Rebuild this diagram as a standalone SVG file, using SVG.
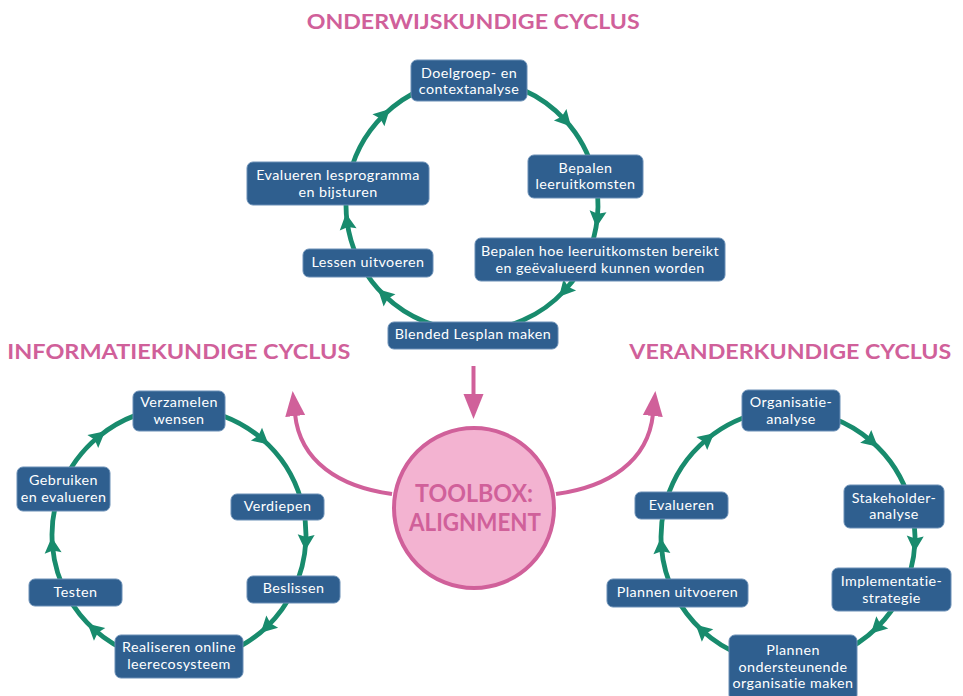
<svg xmlns="http://www.w3.org/2000/svg" width="963" height="696" viewBox="0 0 963 696">
<style>
.title{font-family:Lato,"Liberation Sans",sans-serif;font-weight:700;font-size:21px;fill:#d0609a}
.box{fill:#2f5f8f;stroke:#6a8fb6;stroke-width:1}
.lbl{font-family:Lato,"Liberation Sans",sans-serif;font-size:14.3px;letter-spacing:0.45px;fill:#ffffff;text-anchor:middle}
.cyc{fill:none;stroke:#188b6d;stroke-width:4.8;marker-mid:url(#ga)}
.pk{fill:none;stroke:#d0609a;stroke-width:4;marker-end:url(#pa)}
.ctr{font-family:Lato,"Liberation Sans",sans-serif;font-weight:700;font-size:25px;fill:#d0609a;text-anchor:middle}
</style>
<defs>
<marker id="ga" markerUnits="userSpaceOnUse" viewBox="-9 -9 19 18" markerWidth="19" markerHeight="18" refX="0" refY="0" orient="auto">
<path d="M-7,-8.5 L9,0 L-7,8.5 L-4.5,0 z" fill="#188b6d"/>
</marker>
<marker id="pa" markerUnits="userSpaceOnUse" viewBox="0 -11 26 22" markerWidth="26" markerHeight="22" refX="2" refY="0" orient="auto">
<path d="M0,-10 L25,0 L0,10 z" fill="#d0609a"/>
</marker>
</defs>
<text class="title" x="306.7" y="29.3" textLength="333" lengthAdjust="spacingAndGlyphs">ONDERWIJSKUNDIGE CYCLUS</text>
<text class="title" x="7.3" y="359.3" textLength="343" lengthAdjust="spacingAndGlyphs">INFORMATIEKUNDIGE CYCLUS</text>
<text class="title" x="629.3" y="359.3" textLength="322" lengthAdjust="spacingAndGlyphs">VERANDERKUNDIGE CYCLUS</text>
<g id="connectors">
<path class="cyc" d="M472,79 A126,126 0 0 1 564.9,119.9 A126,126 0 0 1 594.3,174.5"/>
<path class="cyc" d="M594.3,174.5 A126,126 0 0 1 597.3,218.2 A126,126 0 0 1 588,254.2"/>
<path class="cyc" d="M588,254.2 A126,126 0 0 1 565.1,290 A126,126 0 0 1 472,331"/>
<path class="cyc" d="M472,331 A126,126 0 0 1 384.5,295.6 A126,126 0 0 1 361.8,266.1"/>
<path class="cyc" d="M361.8,266.1 A126,126 0 0 1 347.2,222.5 A126,126 0 0 1 347.6,185.3"/>
<path class="cyc" d="M347.6,185.3 A126,126 0 0 1 383.4,115.4 A126,126 0 0 1 472,79"/>
<path class="cyc" d="M179,408 A127,127 0 0 1 261.8,438.7 A127,127 0 0 1 301.1,500"/>
<path class="cyc" d="M301.1,500 A127,127 0 0 1 305.8,541.6 A127,127 0 0 1 293.6,589.7"/>
<path class="cyc" d="M293.6,589.7 A127,127 0 0 1 267.2,626.4 A127,127 0 0 1 179,662"/>
<path class="cyc" d="M179,662 A127,127 0 0 1 94.4,629.7 A127,127 0 0 1 67.9,596.6"/>
<path class="cyc" d="M67.9,596.6 A127,127 0 0 1 52.5,546.1 A127,127 0 0 1 61,488"/>
<path class="cyc" d="M61,488 A127,127 0 0 1 98.2,437 A127,127 0 0 1 179,408"/>
<path class="cyc" d="M788,410 A127,127 0 0 1 871,440.9 A127,127 0 0 1 910.1,502"/>
<path class="cyc" d="M910.1,502 A127,127 0 0 1 914.9,543 A127,127 0 0 1 901.2,594.7"/>
<path class="cyc" d="M901.2,594.7 A127,127 0 0 1 877.3,627.3 A127,127 0 0 1 788,664"/>
<path class="cyc" d="M788,664 A127,127 0 0 1 702.4,630.8 A127,127 0 0 1 674.8,594.7"/>
<path class="cyc" d="M674.8,594.7 A127,127 0 0 1 661.4,546.7 A127,127 0 0 1 666.2,500.9"/>
<path class="cyc" d="M666.2,500.9 A127,127 0 0 1 707.2,439 A127,127 0 0 1 788,410"/>
<path class="pk" d="M473.5,366 L473.5,396"/>
<path class="pk" d="M392,494 C340,487 300,462 295,414"/>
<path class="pk" d="M556,494 C608,487 648,462 653,414"/>
</g>
<g id="toolbox">
<circle cx="474" cy="508" r="80" fill="#f3b3d1" stroke="#d0609a" stroke-width="4"/>
<text class="ctr" x="474" y="501.7" textLength="118" lengthAdjust="spacingAndGlyphs">TOOLBOX:</text>
<text class="ctr" x="475" y="530.7" textLength="132" lengthAdjust="spacingAndGlyphs">ALIGNMENT</text>
</g>
<g id="n-doelgroep"><rect class="box" x="411" y="60" width="116" height="41" rx="6"/><text class="lbl" x="469" y="77.7">Doelgroep- en</text><text class="lbl" x="469" y="94.3">contextanalyse</text></g>
<g id="n-bepalen"><rect class="box" x="528" y="155" width="115" height="43" rx="6"/><text class="lbl" x="585.5" y="172.6">Bepalen</text><text class="lbl" x="585.5" y="189.3">leeruitkomsten</text></g>
<g id="n-bepalenhoe"><rect class="box" x="475" y="238" width="250" height="43" rx="6"/><text class="lbl" x="600" y="255.7">Bepalen hoe leeruitkomsten bereikt</text><text class="lbl" x="600" y="272.7">en geëvalueerd kunnen worden</text></g>
<g id="n-blended"><rect class="box" x="388" y="322" width="170" height="27" rx="6"/><text class="lbl" x="473" y="339.3">Blended Lesplan maken</text></g>
<g id="n-lessen"><rect class="box" x="303" y="249" width="130" height="28" rx="6"/><text class="lbl" x="368" y="266.7">Lessen uitvoeren</text></g>
<g id="n-evalueren-les"><rect class="box" x="247" y="162" width="182" height="43" rx="6"/><text class="lbl" x="338" y="180">Evalueren lesprogramma</text><text class="lbl" x="338" y="196.7">en bijsturen</text></g>
<g id="n-verzamelen"><rect class="box" x="133" y="391" width="92" height="40" rx="6"/><text class="lbl" x="179" y="407.3">Verzamelen</text><text class="lbl" x="179" y="424">wensen</text></g>
<g id="n-verdiepen"><rect class="box" x="231" y="494" width="93" height="26" rx="6"/><text class="lbl" x="277.5" y="510.7">Verdiepen</text></g>
<g id="n-beslissen"><rect class="box" x="247" y="576" width="93" height="27" rx="6"/><text class="lbl" x="293.5" y="593.3">Beslissen</text></g>
<g id="n-realiseren"><rect class="box" x="115" y="635" width="128" height="43" rx="6"/><text class="lbl" x="179" y="652.3">Realiseren online</text><text class="lbl" x="179" y="669.3">leerecosysteem</text></g>
<g id="n-testen"><rect class="box" x="29" y="579" width="93" height="27" rx="6"/><text class="lbl" x="75.5" y="596.7">Testen</text></g>
<g id="n-gebruiken"><rect class="box" x="17" y="467" width="93" height="44" rx="6"/><text class="lbl" x="63.5" y="485">Gebruiken</text><text class="lbl" x="63.5" y="502.3">en evalueren</text></g>
<g id="n-organisatie"><rect class="box" x="742" y="390" width="98" height="41" rx="6"/><text class="lbl" x="791" y="407.3">Organisatie-</text><text class="lbl" x="791" y="424">analyse</text></g>
<g id="n-stakeholder"><rect class="box" x="844" y="485" width="100" height="43" rx="6"/><text class="lbl" x="894" y="502.7">Stakeholder-</text><text class="lbl" x="894" y="519.3">analyse</text></g>
<g id="n-implementatie"><rect class="box" x="832" y="568" width="119" height="43" rx="6"/><text class="lbl" x="891.5" y="585.5">Implementatie-</text><text class="lbl" x="891.5" y="602.7">strategie</text></g>
<g id="n-plannen-ond"><rect class="box" x="729" y="635" width="128" height="66" rx="6"/><text class="lbl" x="793" y="655">Plannen</text><text class="lbl" x="793" y="671.7">ondersteunende</text><text class="lbl" x="793" y="688.3">organisatie maken</text></g>
<g id="n-plannen-uit"><rect class="box" x="607" y="579" width="141" height="28" rx="6"/><text class="lbl" x="677.5" y="596.7">Plannen uitvoeren</text></g>
<g id="n-evalueren"><rect class="box" x="635" y="492" width="93" height="27" rx="6"/><text class="lbl" x="681.5" y="510">Evalueren</text></g>
</svg>
